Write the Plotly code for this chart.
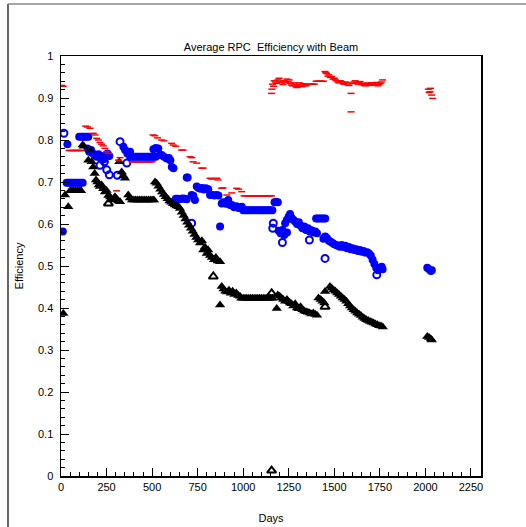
import plotly.graph_objects as go

# ---------------- data ----------------
red_days = [3, 12,
            44, 54, 64, 74, 84, 94, 104, 110,
            136, 145, 159, 177, 187, 196, 205, 214, 223, 232, 241, 251, 260,
            305, 316, 324,
            390, 400, 410, 420, 430, 440, 450, 460, 470, 480, 490, 500,
            505, 515, 530, 553, 565, 607, 616, 630, 662, 670, 708, 718, 725, 745,
            772, 780, 818, 827, 855, 862, 882, 889, 910, 937, 964, 975, 992,
            1005, 1015, 1025, 1035, 1045, 1055, 1065, 1075, 1085, 1095, 1105, 1115, 1125, 1135, 1145, 1155,
            1156, 1158, 1161, 1166, 1170, 1177, 1184, 1190, 1197, 1204, 1210, 1218, 1225, 1232, 1240,
            1247, 1252, 1258, 1265, 1271, 1278, 1284, 1290, 1295, 1302, 1308, 1315, 1321, 1328, 1335,
            1342, 1350, 1363, 1372, 1381, 1390, 1400, 1410, 1420, 1430, 1440,
            1449, 1453, 1458, 1465, 1471, 1478, 1486, 1493, 1500, 1506, 1513, 1520, 1526, 1533, 1540,
            1548, 1555, 1562, 1568, 1575, 1581, 1592, 1592, 1600, 1607, 1614, 1621, 1629, 1636, 1642,
            1649, 1655, 1662, 1669, 1676, 1684, 1690, 1697, 1704, 1710, 1717, 1724, 1731, 1739, 1745,
            1752, 1758, 1765,
            2016, 2020, 2025, 2028, 2034, 2040]
red_eff = [0.930, 0.928,
           0.775, 0.775, 0.775, 0.775, 0.775, 0.775, 0.775, 0.775,
           0.833, 0.831, 0.828, 0.816, 0.812, 0.804, 0.800, 0.794, 0.790, 0.786, 0.780, 0.772, 0.768,
           0.679, 0.752, 0.758,
           0.748, 0.748, 0.748, 0.748, 0.748, 0.748, 0.748, 0.748, 0.748, 0.748, 0.748, 0.748,
           0.812, 0.810, 0.805, 0.800, 0.798, 0.792, 0.788, 0.785, 0.776, 0.776, 0.760, 0.758, 0.748, 0.745,
           0.733, 0.733, 0.709, 0.707, 0.709, 0.705, 0.685, 0.686, 0.669, 0.674, 0.685, 0.683, 0.677,
           0.667, 0.667, 0.667, 0.667, 0.667, 0.667, 0.667, 0.667, 0.667, 0.667, 0.667, 0.667, 0.667, 0.667, 0.667, 0.667,
           0.911, 0.921, 0.933, 0.928, 0.941, 0.938, 0.935, 0.943, 0.947, 0.940, 0.936, 0.932, 0.941, 0.937, 0.945,
           0.939, 0.943, 0.935, 0.931, 0.929, 0.936, 0.933, 0.927, 0.925, 0.930, 0.936, 0.931, 0.927, 0.934, 0.933,
           0.929, 0.931, 0.933, 0.933, 0.933, 0.933, 0.940, 0.940, 0.940, 0.940, 0.940,
           0.963, 0.960, 0.958, 0.952, 0.955, 0.949, 0.951, 0.945, 0.947, 0.943, 0.941, 0.938, 0.936, 0.941, 0.939,
           0.934, 0.933, 0.938, 0.936, 0.931, 0.930, 0.911, 0.867, 0.935, 0.938, 0.941, 0.936, 0.933, 0.937, 0.939,
           0.932, 0.935, 0.931, 0.929, 0.934, 0.936, 0.932, 0.930, 0.936, 0.935, 0.931, 0.933, 0.937, 0.929, 0.932,
           0.935, 0.938, 0.943,
           0.921, 0.913, 0.915, 0.923, 0.907, 0.899]

blue_days = [10, 35,
             31, 40, 50, 60, 70, 80, 90, 100, 110, 119,
             100, 110, 120, 130, 140, 150,
             145, 155, 165, 175, 185, 195, 205, 215, 225, 235, 245, 255, 265,
             342, 352, 364, 379,
             380, 390, 400, 410, 420, 430, 440, 450, 460, 470, 480, 490, 500, 510, 520,
             507, 520, 534,
             543, 553, 565, 580, 592, 600, 608, 617,
             690, 695,
             630, 640, 650, 660, 670, 680, 690,
             717, 726, 735,
             745, 755, 765, 775, 785, 795, 808,
             818, 830, 842, 854, 864,
             882, 892, 905, 918, 928, 937, 950, 962, 975, 992,
             1000, 1010, 1020, 1030, 1040, 1050, 1060, 1070, 1080, 1090, 1100, 1110, 1120, 1130, 1140, 1150, 1160,
             1172, 1180, 1190,
             873,
             1195, 1205, 1215, 1225, 1240,
             1230, 1240, 1250, 1257, 1265, 1275, 1285, 1295, 1305, 1315, 1325, 1335, 1345, 1355, 1365, 1375, 1385, 1395, 1405,
             1400, 1410, 1420, 1430, 1440, 1450,
             1440, 1450, 1460, 1470, 1480, 1490, 1500, 1510, 1520, 1530,
             1540, 1550, 1560, 1570, 1580, 1590, 1600, 1610, 1620, 1630, 1640, 1650, 1660, 1670, 1680, 1690,
             1700, 1710, 1720, 1730, 1740, 1750, 1760, 1765,
             2010, 2020, 2030, 2035]
blue_eff = [0.582, 0.790,
            0.698, 0.698, 0.698, 0.698, 0.698, 0.698, 0.698, 0.698, 0.698, 0.698,
            0.808, 0.808, 0.808, 0.808, 0.808, 0.808,
            0.780, 0.772, 0.776, 0.768, 0.764, 0.760, 0.766, 0.758, 0.762, 0.754, 0.760, 0.768, 0.762,
            0.784, 0.776, 0.768, 0.772,
            0.760, 0.760, 0.760, 0.760, 0.760, 0.760, 0.760, 0.760, 0.760, 0.760, 0.760, 0.760, 0.760, 0.760, 0.760,
            0.778, 0.781, 0.780,
            0.764, 0.764, 0.760, 0.756, 0.757, 0.752, 0.736, 0.733,
            0.711, 0.711,
            0.660, 0.660, 0.659, 0.660, 0.661, 0.660, 0.659,
            0.669, 0.667, 0.657,
            0.689, 0.686, 0.684, 0.686, 0.682, 0.685, 0.683,
            0.669, 0.669, 0.668, 0.669, 0.668,
            0.649, 0.652, 0.648, 0.657, 0.645, 0.645, 0.640, 0.642, 0.638, 0.641,
            0.633, 0.633, 0.633, 0.633, 0.633, 0.633, 0.633, 0.633, 0.633, 0.633, 0.633, 0.633, 0.633, 0.633, 0.633, 0.633, 0.633,
            0.652, 0.653, 0.652,
            0.594,
            0.584, 0.578, 0.586, 0.574, 0.580,
            0.602, 0.610, 0.618, 0.624, 0.615, 0.610, 0.606, 0.600, 0.604, 0.596, 0.590, 0.594, 0.586, 0.590, 0.582, 0.585, 0.580, 0.582, 0.578,
            0.613, 0.613, 0.613, 0.613, 0.613, 0.613,
            0.565, 0.570, 0.566, 0.560, 0.558, 0.555, 0.552, 0.550, 0.548, 0.546,
            0.550, 0.545, 0.548, 0.542, 0.545, 0.540, 0.542, 0.538, 0.540, 0.536, 0.538, 0.534, 0.536, 0.532, 0.533, 0.530,
            0.525, 0.515, 0.505, 0.495, 0.490, 0.495, 0.498, 0.492,
            0.496, 0.492, 0.488, 0.490]

blue_open_days = [16, 214, 238, 251, 265, 309, 324, 361, 717, 1162, 1165, 1215, 1363, 1449, 1733]
blue_open_eff = [0.816, 0.740, 0.748, 0.729, 0.717, 0.716, 0.796, 0.745, 0.602, 0.590, 0.602, 0.556, 0.562, 0.518, 0.479]

black_days = [13, 22, 40,
              50, 60, 70, 80, 90, 100, 110,
              119, 125, 150, 159, 168,
              177, 185, 192, 200, 207, 214,
              223, 232, 241, 250, 260, 270, 278,
              296, 305, 315, 324,
              320, 333, 342, 351, 369, 378,
              390, 400, 410, 420, 430, 440, 450, 460, 470, 480, 490, 500, 510,
              516, 525, 535, 545, 555, 565, 575, 585, 595, 605, 615, 625, 635, 645,
              653, 663, 673, 683, 693, 703, 713, 723, 733, 743, 753, 763, 773,
              781, 790, 800, 808, 818, 828, 840, 850, 860, 873,
              873,
              882, 892, 902, 912, 922, 932, 942, 952, 962, 972, 982,
              990, 1000, 1010, 1020, 1030, 1040, 1050, 1060, 1070, 1080, 1090, 1100, 1110, 1120, 1130, 1140, 1150, 1160,
              1184,
              1190, 1200, 1210, 1220, 1230, 1240, 1250, 1257,
              1265, 1275, 1285, 1295, 1305, 1315, 1325, 1335, 1345,
              1355, 1365, 1375, 1385, 1395, 1405,
              1413, 1425, 1435, 1445, 1449,
              1476, 1486, 1496, 1506, 1516, 1526, 1536, 1546, 1556, 1566, 1576, 1586, 1596, 1606, 1616,
              1626, 1636, 1646, 1656, 1666, 1676, 1686, 1696, 1706, 1716, 1726, 1736, 1746, 1756, 1766,
              2010, 2020, 2030, 2035]
black_eff = [0.387, 0.669, 0.641,
             0.679, 0.679, 0.679, 0.679, 0.679, 0.679, 0.679,
             0.788, 0.785, 0.752, 0.776, 0.748,
             0.736, 0.720, 0.705, 0.700, 0.693, 0.689,
             0.693, 0.684, 0.676, 0.680, 0.668, 0.664, 0.657,
             0.665, 0.660, 0.655, 0.653,
             0.748, 0.724, 0.715, 0.709, 0.669, 0.662,
             0.657, 0.657, 0.657, 0.657, 0.657, 0.657, 0.657, 0.657, 0.657, 0.657, 0.657, 0.657, 0.657,
             0.700, 0.697, 0.690, 0.683, 0.676, 0.670, 0.665, 0.660, 0.655, 0.652, 0.648, 0.645, 0.643, 0.641,
             0.637, 0.628, 0.620, 0.612, 0.604, 0.597, 0.590, 0.583, 0.575, 0.568, 0.562, 0.555, 0.560,
             0.538, 0.545, 0.530, 0.538, 0.525, 0.520, 0.515, 0.520, 0.512, 0.510,
             0.407,
             0.451, 0.445, 0.440, 0.438, 0.442, 0.435, 0.440, 0.432, 0.436, 0.430, 0.428,
             0.423, 0.423, 0.423, 0.423, 0.423, 0.423, 0.423, 0.423, 0.423, 0.423, 0.423, 0.423, 0.423, 0.423, 0.423, 0.423, 0.423, 0.423,
             0.399,
             0.431, 0.428, 0.424, 0.420, 0.416, 0.420, 0.415, 0.412,
             0.410, 0.405, 0.410, 0.400, 0.398, 0.403, 0.396, 0.393, 0.391,
             0.390, 0.388, 0.386, 0.388, 0.385, 0.383,
             0.424, 0.420, 0.416, 0.412, 0.439,
             0.451, 0.447, 0.443, 0.440, 0.436, 0.432, 0.428, 0.424, 0.420, 0.416, 0.410, 0.405, 0.400, 0.396, 0.392,
             0.388, 0.385, 0.382, 0.378, 0.375, 0.372, 0.370, 0.368, 0.366, 0.364, 0.362, 0.360, 0.358, 0.357, 0.355,
             0.332, 0.330, 0.326, 0.324]

black_open_days = [260, 836, 1156, 1449, 1156]
black_open_eff = [0.649, 0.475, 0.435, 0.403, 0.013]

x_ticks = [0, 250, 500, 750, 1000, 1250, 1500, 1750, 2000, 2250]

FONT = "Liberation Sans, Arial, sans-serif"

fig = go.Figure()
fig.add_trace(go.Scatter(x=blue_days, y=blue_eff, mode="markers",
                         marker=dict(symbol="circle", size=8, color="#0000ff",
                                     line=dict(width=0))))
fig.add_trace(go.Scatter(x=blue_open_days, y=blue_open_eff, mode="markers",
                         marker=dict(symbol="circle-open", size=7, color="#0000ff",
                                     line=dict(width=2, color="#0000ff"))))
fig.add_trace(go.Scatter(x=black_days, y=black_eff, mode="markers",
                         marker=dict(symbol="triangle-up", size=9, color="#000000",
                                     line=dict(width=0))))
fig.add_trace(go.Scatter(x=black_open_days, y=black_open_eff, mode="markers",
                         marker=dict(symbol="triangle-up-open", size=8, color="#000000",
                                     line=dict(width=2, color="#000000"))))
fig.add_trace(go.Scatter(x=red_days, y=red_eff, mode="markers",
                         marker=dict(symbol="line-ew", size=5, color="#ff0000",
                                     line=dict(width=1.5, color="#ff0000"))))

# outer page frame
fig.add_shape(type="line", xref="paper", yref="paper", x0=-0.1262, x1=-0.1262,
              y0=-0.2, y1=1.1238, line=dict(color="#333333", width=1.5))
fig.add_shape(type="line", xref="paper", yref="paper", x0=-0.1262, x1=1.3,
              y0=1.1238, y1=1.1238, line=dict(color="#888888", width=1.5))

fig.update_layout(
    width=526, height=527,
    margin=dict(l=61, r=45, t=56, b=51, autoexpand=False),
    paper_bgcolor="white", plot_bgcolor="white",
    showlegend=False,
    font=dict(family=FONT, size=11, color="black"),
    title=dict(text="Average RPC\u00a0 Efficiency with Beam", x=271 / 526, xanchor="center",
               y=1 - 47 / 527, yanchor="middle", yref="container",
               font=dict(family=FONT, size=11, color="black")),
    xaxis=dict(range=[0, 2305], tickvals=x_ticks, ticktext=[str(v) for v in x_ticks],
               automargin=False,
               ticks="inside", ticklen=8, tickwidth=1, tickcolor="black",
               minor=dict(dtick=50, ticks="inside", ticklen=4, tickcolor="black", tickwidth=1),
               showline=True, linecolor="black", linewidth=1.5, mirror=True,
               showgrid=False, zeroline=False,
               tickfont=dict(family=FONT, size=11),
               title=dict(text="Days", standoff=22, font=dict(family=FONT, size=11))),
    yaxis=dict(range=[0, 1], dtick=0.1, tick0=0, automargin=False,
               ticks="inside", ticklen=8, tickwidth=1, tickcolor="black",
               minor=dict(dtick=0.02, ticks="inside", ticklen=4, tickcolor="black", tickwidth=1),
               showline=True, linecolor="black", linewidth=1.5, mirror=True,
               showgrid=False, zeroline=False, ticklabelstandoff=4,
               tickfont=dict(family=FONT, size=11),
               title=dict(text="Efficiency", standoff=12, font=dict(family=FONT, size=11))),
)

fig.write_html(
    "out.html",
    config={"displayModeBar": False, "staticPlot": True},
    post_script=(
        "var s=document.createElement('style');"
        "s.textContent='html,body{margin:0;padding:0;width:526px;height:527px;overflow:hidden;}"
        "body>div{line-height:0;font-size:0;}';"
        "document.head.appendChild(s);"
    ),
)
